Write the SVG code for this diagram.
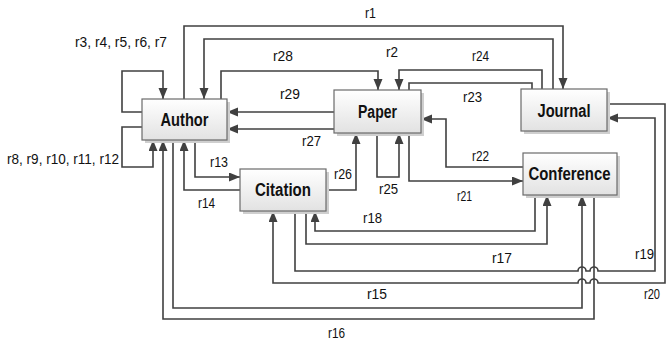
<svg xmlns="http://www.w3.org/2000/svg" width="667" height="343" viewBox="0 0 667 343">
<style>
.node rect.box{fill:url(#g);stroke:#6a6a6a;stroke-width:1.2}
.node rect.sh{fill:#cfcfcf}
.node text{font-family:"Liberation Sans Narrow","Arial Narrow","Liberation Sans",sans-serif;font-weight:bold;font-size:18px;fill:#111;text-anchor:middle}
.conn path{fill:none;stroke:#404040;stroke-width:1.6}
.conn path.a{marker-end:url(#ah)}
.lbl{font-family:"Liberation Sans Narrow","Arial Narrow","Liberation Sans",sans-serif;font-size:14px;fill:#111}
</style>
<defs>
<linearGradient id="g" x1="0" y1="0" x2="0" y2="1">
<stop offset="0" stop-color="#ffffff"/>
<stop offset="1" stop-color="#e2e2e2"/>
</linearGradient>
<marker id="ah" markerUnits="userSpaceOnUse" markerWidth="12" markerHeight="10" refX="11" refY="4.5" orient="auto">
<path d="M0,0 L11,4.5 L0,9 z" fill="#404040"/>
</marker>
</defs>
<rect width="667" height="343" fill="#ffffff"/>
<g class="conn">
<path class="a" d="M184,99 V26 H563 V89"/>
<path class="a" d="M553,89 V39 H204 V99"/>
<path class="a" d="M221,99 V71 H378 V90"/>
<path class="a" d="M542,89 V70 H399 V90"/>
<path d="M409,90 V83 H532 V89"/>
<path class="a" d="M334,112 H227"/>
<path class="a" d="M334,129 H227"/>
<path class="a" d="M142,112 H122 V71 H163 V99"/>
<path class="a" d="M142,127 H122 V167 H153 V140"/>
<path class="a" d="M195,140 V177 H240"/>
<path class="a" d="M240,190 H184 V140"/>
<path class="a" d="M326,190 H356 V133"/>
<path class="a" d="M377,133 V177 H399 V133"/>
<path class="a" d="M409,133 V181 H523"/>
<path class="a" d="M523,167 H446 V119 H421"/>
<path class="a" d="M535,195 V231 H315 V211"/>
<path class="a" d="M306,211 V244 H547 V195"/>
<path class="a" d="M295,211 V271 H578 A4,4 0 0 1 586,271 H590 A4,4 0 0 1 598,271 H655 V118 H607"/>
<path class="a" d="M607,104 H665 V283 H598 A4,4 0 0 0 590,283 H586 A4,4 0 0 0 578,283 H273 V211"/>
<path class="a" d="M173,140 V308 H582 V195"/>
<path class="a" d="M594,195 V319 H163 V140"/>
</g>
<g id="author" class="node"><rect class="sh" x="145" y="102" width="85" height="41"/><rect class="box" x="142" y="99" width="85" height="41"/><text x="184.5" y="126" textLength="48" lengthAdjust="spacingAndGlyphs">Author</text></g>
<g id="paper" class="node"><rect class="sh" x="337" y="93" width="87" height="43"/><rect class="box" x="334" y="90" width="87" height="43"/><text x="377.5" y="117.5" textLength="39" lengthAdjust="spacingAndGlyphs">Paper</text></g>
<g id="journal" class="node"><rect class="sh" x="524" y="92" width="86" height="42"/><rect class="box" x="521" y="89" width="86" height="42"/><text x="564" y="117" textLength="53" lengthAdjust="spacingAndGlyphs">Journal</text></g>
<g id="conference" class="node"><rect class="sh" x="526" y="156" width="94" height="42"/><rect class="box" x="523" y="153" width="94" height="42"/><text x="569.5" y="180" textLength="82" lengthAdjust="spacingAndGlyphs">Conference</text></g>
<g id="citation" class="node"><rect class="sh" x="243" y="172" width="86" height="42"/><rect class="box" x="240" y="169" width="86" height="42"/><text x="283" y="196" textLength="56" lengthAdjust="spacingAndGlyphs">Citation</text></g>
<g class="labels">
<text class="lbl" x="365" y="18" textLength="11" lengthAdjust="spacingAndGlyphs">r1</text>
<text class="lbl" x="75" y="47" textLength="92" lengthAdjust="spacingAndGlyphs">r3, r4, r5, r6, r7</text>
<text class="lbl" x="273" y="61" textLength="20" lengthAdjust="spacingAndGlyphs">r28</text>
<text class="lbl" x="386" y="57" textLength="12" lengthAdjust="spacingAndGlyphs">r2</text>
<text class="lbl" x="472" y="61" textLength="17" lengthAdjust="spacingAndGlyphs">r24</text>
<text class="lbl" x="463" y="102" textLength="19" lengthAdjust="spacingAndGlyphs">r23</text>
<text class="lbl" x="280" y="99" textLength="20" lengthAdjust="spacingAndGlyphs">r29</text>
<text class="lbl" x="302" y="146" textLength="19" lengthAdjust="spacingAndGlyphs">r27</text>
<text class="lbl" x="210" y="167" textLength="18" lengthAdjust="spacingAndGlyphs">r13</text>
<text class="lbl" x="7" y="164" textLength="112" lengthAdjust="spacingAndGlyphs">r8, r9, r10, r11, r12</text>
<text class="lbl" x="198" y="208" textLength="17" lengthAdjust="spacingAndGlyphs">r14</text>
<text class="lbl" x="334" y="179" textLength="18" lengthAdjust="spacingAndGlyphs">r26</text>
<text class="lbl" x="379" y="194" textLength="19" lengthAdjust="spacingAndGlyphs">r25</text>
<text class="lbl" x="472" y="161" textLength="17" lengthAdjust="spacingAndGlyphs">r22</text>
<text class="lbl" x="457" y="201" textLength="15" lengthAdjust="spacingAndGlyphs">r21</text>
<text class="lbl" x="363" y="223" textLength="19" lengthAdjust="spacingAndGlyphs">r18</text>
<text class="lbl" x="492" y="263" textLength="20" lengthAdjust="spacingAndGlyphs">r17</text>
<text class="lbl" x="635" y="259" textLength="19" lengthAdjust="spacingAndGlyphs">r19</text>
<text class="lbl" x="367" y="299" textLength="20" lengthAdjust="spacingAndGlyphs">r15</text>
<text class="lbl" x="644" y="299" textLength="16" lengthAdjust="spacingAndGlyphs">r20</text>
<text class="lbl" x="328" y="338" textLength="17" lengthAdjust="spacingAndGlyphs">r16</text>
</g>
</svg>
